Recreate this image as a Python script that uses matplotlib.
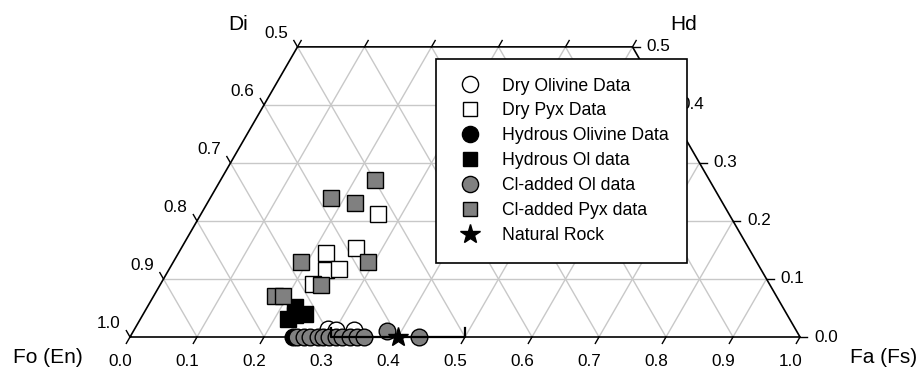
import numpy as np
import matplotlib
matplotlib.use("Agg")
import matplotlib.pyplot as plt

plt.rcParams['font.family'] = ['Liberation Sans', 'DejaVu Sans']

# 데이터: (Fs, Wo) 좌표
dry_ol_fs = [0.289, 0.301, 0.328]
dry_ol_wo = [0.014, 0.012, 0.012]

dry_pyx_fs = [0.264, 0.220, 0.261, 0.234, 0.254, 0.228]
dry_pyx_wo = [0.212, 0.144, 0.153, 0.116, 0.117, 0.091]

hyd_ol_fs = [0.243]
hyd_ol_wo = [0.0]

hyd_pyx_fs = [0.220, 0.241, 0.220, 0.227]
hyd_pyx_wo = [0.052, 0.040, 0.031, 0.038]

cl_ol_fs = [0.249, 0.259, 0.269, 0.280, 0.288, 0.297, 0.307, 0.316, 0.328, 0.339, 0.349, 0.379, 0.431]
cl_ol_wo = [0.0, 0.0, 0.0, 0.0, 0.0, 0.0, 0.0, 0.0, 0.0, 0.0, 0.0, 0.010, 0.0]

cl_pyx_fs = [0.231, 0.180, 0.220, 0.190, 0.290, 0.240, 0.182, 0.194]
cl_pyx_wo = [0.270, 0.240, 0.231, 0.130, 0.130, 0.090, 0.070, 0.070]

rock_fs = [0.40]
rock_wo = [0.0]
rock_range = [0.30, 0.50]

bottom_ticks = [0.0, 0.1, 0.2, 0.3, 0.4, 0.5, 0.6, 0.7, 0.8, 0.9, 1.0]
side_ticks = [0.0, 0.1, 0.2, 0.3, 0.4, 0.5]

H = np.sqrt(3) / 2


def to_xy(fs, wo):
    fs = np.asarray(fs, dtype=float)
    wo = np.asarray(wo, dtype=float)
    return fs + wo / 2, wo * H


fig = plt.figure(figsize=(9.18, 3.76), dpi=100)
ax = fig.add_axes([0, 0, 1, 1])
ax.set_xlim(-130 / 670, 788 / 670)
ax.set_ylim(-39 / 670, 337 / 670)
ax.axis('off')

grid = dict(color='#c8c8c8', lw=1.0, zorder=1)
for w in side_ticks[1:-1]:
    x, y = to_xy([0, 1 - w], [w, w])
    ax.plot(x, y, **grid)
for f in bottom_ticks[1:-1]:
    top = min(0.5, 1 - f)
    x, y = to_xy([f, f], [0, top])
    ax.plot(x, y, **grid)
    top = min(0.5, f)
    x, y = to_xy([f, f - top], [0, top])
    ax.plot(x, y, **grid)

# 외곽선
x, y = to_xy([0, 1, 0.5, 0, 0], [0, 0, 0.5, 0.5, 0])
ax.plot(x, y, color='black', lw=1.2, zorder=2)

tl = 0.011
lab = dict(fontsize=12.3, zorder=3)
for f in bottom_ticks:
    x, y = to_xy(f, 0)
    ax.plot([x, x - tl * 0.5], [y, y - tl * H], color='black', lw=1.0, zorder=2)
    ax.text(x - 0.014, -0.037, f"{f:.1f}", ha='center', va='center', **lab)
for w in side_ticks:
    x, y = to_xy(0, w)
    ax.plot([x, x - tl * 0.5], [y, y + tl * H], color='black', lw=1.0, zorder=2)
    ax.text(x - 0.032, y + 0.020, f"{1 - w:.1f}", ha='center', va='center', **lab)
    x, y = to_xy(1 - w, w)
    ax.plot([x, x + tl], [y, y], color='black', lw=1.0, zorder=2)
    ax.text(x + 0.021, y, f"{w:.1f}", ha='left', va='center', **lab)
for f in side_ticks:
    x, y = to_xy(f, 0.5)
    ax.plot([x, x + tl * 0.5], [y, y + tl * H], color='black', lw=1.0, zorder=2)

ax.text(0.161, 0.467, "Di", ha='center', va='center', fontsize=15)
ax.text(0.827, 0.467, "Hd", ha='center', va='center', fontsize=15)
ax.text(-0.122, -0.031, "Fo (En)", ha='center', va='center', fontsize=15)
ax.text(1.124, -0.031, "Fa (Fs)", ha='center', va='center', fontsize=15)

gray = '#808080'
ms_c, ms_s = 12, 11
h1, = ax.plot(*to_xy(dry_ol_fs, dry_ol_wo), 'o', ms=ms_c, mfc='white', mec='black', mew=1, zorder=4)
h3, = ax.plot(*to_xy(hyd_ol_fs, hyd_ol_wo), 'o', ms=ms_c, mfc='black', mec='black', mew=1, zorder=4)
h5, = ax.plot(*to_xy(cl_ol_fs, cl_ol_wo), 'o', ms=ms_c, mfc=gray, mec='black', mew=1, zorder=4)
h2, = ax.plot(*to_xy(dry_pyx_fs, dry_pyx_wo), 's', ms=ms_s, mfc='white', mec='black', mew=1, zorder=4)
h4, = ax.plot(*to_xy(hyd_pyx_fs, hyd_pyx_wo), 's', ms=ms_s, mfc='black', mec='black', mew=1, zorder=4)
h6, = ax.plot(*to_xy(cl_pyx_fs, cl_pyx_wo), 's', ms=ms_s, mfc=gray, mec='black', mew=1, zorder=4)

# 자연 암석 범위
cap = 0.013
rx, ry = to_xy(rock_range, [0, 0])
ax.plot([rx[0], rx[0], rx[1], rx[1]], [ry[0] + cap, ry[0], ry[1], ry[1] + cap],
        color='black', lw=1.6, zorder=5)
h7, = ax.plot(*to_xy(rock_fs, rock_wo), '*', ms=15, color='black', zorder=6)

leg = ax.legend([h1, h2, h3, h4, h5, h6, h7],
                ["Dry Olivine Data", "Dry Pyx Data", "Hydrous Olivine Data",
                 "Hydrous Ol data", "Cl-added Ol data", "Cl-added Pyx data", "Natural Rock"],
                loc='upper left', bbox_to_anchor=(436 / 918, 1 - 59 / 376),
                fontsize=12.7, frameon=True, fancybox=False, edgecolor='black',
                framealpha=1, borderpad=1.05, labelspacing=0.45, handlelength=1.75,
                handletextpad=0.92, borderaxespad=0, markerscale=0.97)
leg.get_frame().set_linewidth(1.2)
leg.set_zorder(10)

fig.savefig("out.png", dpi=100)
